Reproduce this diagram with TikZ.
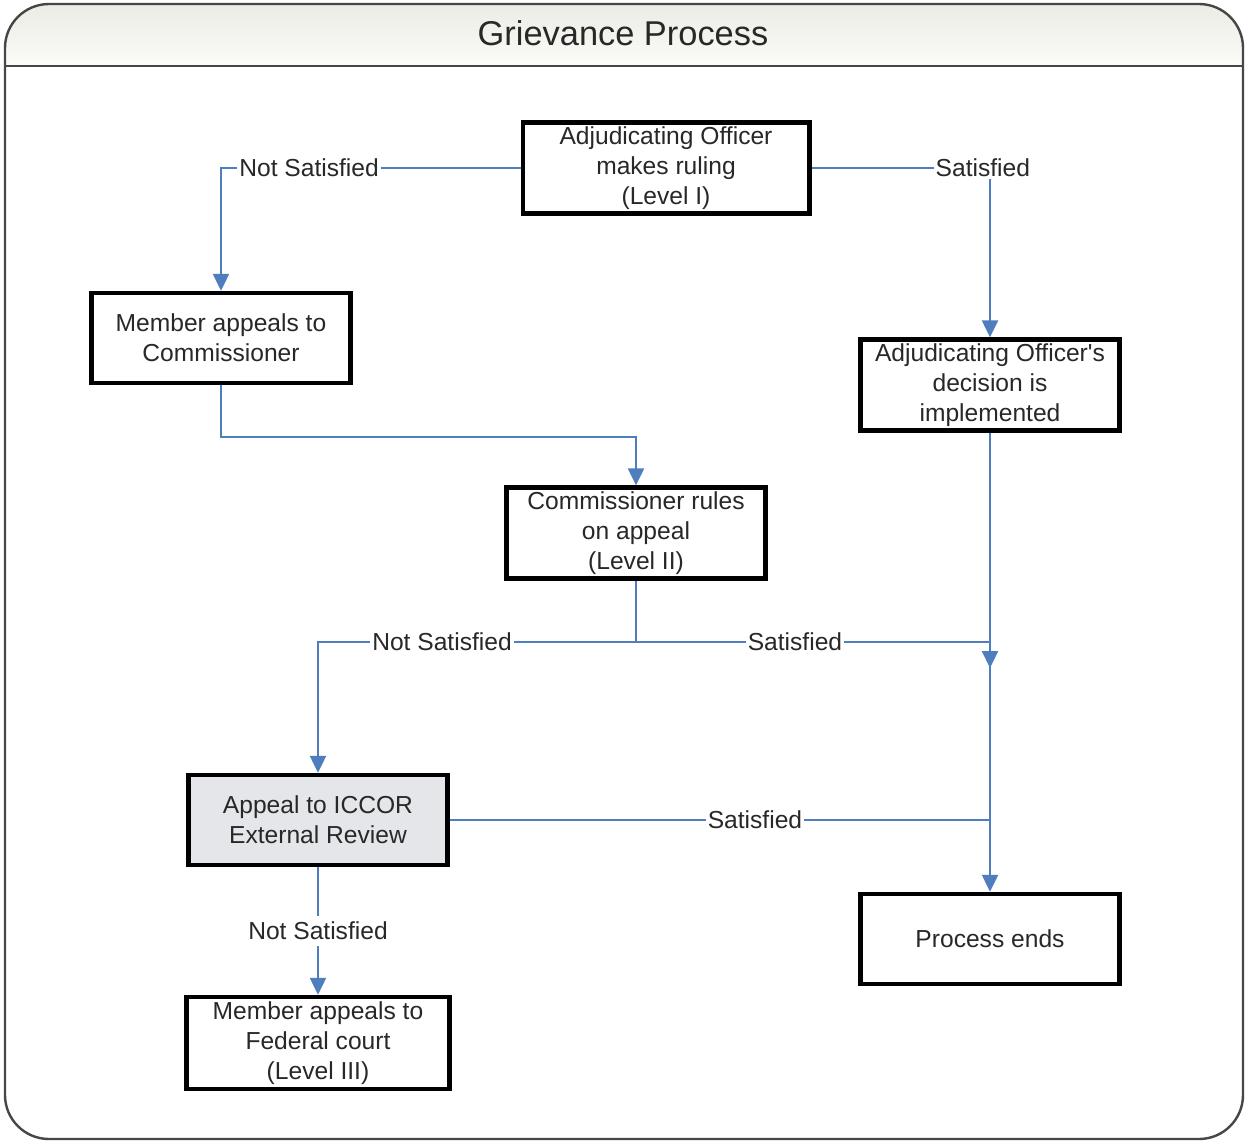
\documentclass[tikz,border=0pt]{standalone}
\usepackage{fontspec}
\setmainfont{Liberation Sans}
\usetikzlibrary{arrows.meta}
\definecolor{conn}{RGB}{79,126,190}
\definecolor{txt}{RGB}{40,40,40}
\definecolor{frame}{RGB}{70,70,70}
\definecolor{boxgray}{RGB}{228,230,234}
\begin{document}
\begin{tikzpicture}[x=0.5pt,y=-0.5pt,
  font=\fontsize{12.3pt}{15pt}\selectfont,
  stepbox/.style={draw=black,line width=2.2pt,fill=white,minimum width=129.5pt,minimum height=45pt,align=center,text=txt,inner sep=2pt},
  conline/.style={draw=conn,line width=1.1pt},
  arr/.style={-{Triangle[length=8.5pt,width=8pt]}},
  lbl/.style={fill=white,inner sep=1pt,text=txt}]
\useasboundingbox (0,0) rectangle (1246,1141);
% frame
\begin{scope}
\clip[rounded corners=22pt] (5,4) rectangle (1243,1139);
\fill[white] (5,4) rectangle (1243,1139);
\fill[top color={rgb,255:red,236;green,236;blue,229},bottom color={rgb,255:red,251;green,251;blue,248}] (5,4) rectangle (1243,66);
\end{scope}
\draw[frame,line width=1.2pt,rounded corners=22pt] (5,4) rectangle (1243,1139);
\draw[frame,line width=1.2pt] (5,66) -- (1243,66);
\node[text=txt,font=\fontsize{17.2pt}{20pt}\selectfont] (title) at (623,33) {Grievance Process};
% nodes
\node[stepbox,minimum width=143.3pt] (A) at (666,168) {Adjudicating Officer\\makes ruling\\(Level I)};
\node[stepbox] (B) at (221,338) {Member appeals to\\Commissioner};
\node[stepbox] (C) at (990,385) {Adjudicating Officer\textquotesingle s\\decision is\\implemented};
\node[stepbox] (D) at (636,533) {Commissioner rules\\on appeal\\(Level II)};
\node[stepbox,fill=boxgray] (E) at (318,820) {Appeal to ICCOR\\External Review};
\node[stepbox] (F) at (990,939) {Process ends};
\node[stepbox,minimum width=131.5pt,minimum height=46pt] (G) at (318,1043) {Member appeals to\\Federal court\\(Level III)};
% junctions
\coordinate (j1) at (636,642);
\coordinate (j2) at (990,642);
\coordinate (j3) at (990,668);
\coordinate (j4) at (990,820);
% connectors
\draw[conline,arr] (A.west) -| node[lbl,pos=0.353] {Not Satisfied} (B.north);
\draw[conline,arr] (A.east) -| node[lbl,pos=0.48] {Satisfied} (C.north);
\draw[conline,arr] (B.south) -- ++(0,52) -| (D.north);
\draw[conline] (D.south) -- (j1);
\draw[conline,arr] (j1) -| node[lbl,pos=0.305] {Not Satisfied} (E.north);
\draw[conline] (j1) -- node[lbl,pos=0.449] {Satisfied} (j2);
\draw[conline,arr] (C.south) -- (F.north);
\draw[conline,arr] (j2) -- (j3);
\draw[conline] (E.east) -- node[lbl,pos=0.565] {Satisfied} (j4);
\draw[conline,arr] (E.south) -- node[lbl,pos=0.5,inner sep=3pt] {Not Satisfied} (G.north);
\end{tikzpicture}
\end{document}
